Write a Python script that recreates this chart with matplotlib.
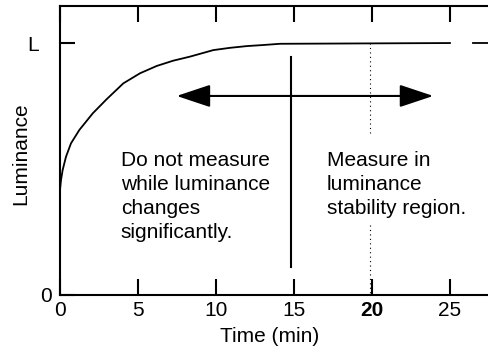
import numpy as np
from matplotlib import pyplot as plt
from matplotlib.transforms import ScaledTranslation

plt.rcParams['font.family'] = ['Liberation Sans', 'DejaVu Sans']

# luminance warm-up curve (relative to L = 1)
t = [0, 0.064, 0.17, 0.385, 0.705, 1.24, 2.1, 2.99, 4.06, 5.13, 6.2, 7.26,
     8.33, 9.83, 10.9, 12.0, 13.0, 14.1, 25]
lum = [0.417, 0.456, 0.496, 0.549, 0.602, 0.655, 0.721, 0.777, 0.840, 0.880,
       0.909, 0.930, 0.946, 0.972, 0.981, 0.988, 0.992, 0.997, 1.0]
tail = [26.5, 28]            # piece of the L line after the gap
xticks = [0, 5, 10, 15, 20, 25]
xticklabels = ['0', '5', '10', '15', '20', '25']
arrow_x = [7.48, 23.93]
arrow_y = 0.79
split_x = 14.8
split_y = [0.111, 0.944]
ref_x = 19.85
ref_segs = [[1.0, 0.635], [0.278, 0.0]]

fs = 15
fig = plt.figure(figsize=(4.88, 3.5), dpi=100)
ax = fig.add_axes([60/488, 55/350, 428/488, 289/350])

ax.plot(t, lum, color='black', lw=1.3)
ax.plot(tail, [1, 1], color='black', lw=1.3)
ax.plot([split_x, split_x], split_y, color='black', lw=1.5)
for seg in ref_segs:
    ax.plot([ref_x, ref_x], seg, color='black', lw=0.8, linestyle=(0, (1, 3)))

ax.annotate('', xy=(arrow_x[1], arrow_y), xytext=(arrow_x[0], arrow_y),
            arrowprops=dict(arrowstyle='<|-|>,head_length=2.1,head_width=0.7',
                            mutation_scale=10, color='black', lw=1.5,
                            shrinkA=0, shrinkB=0))

ax.text(3.9, 0.57, 'Do not measure\nwhile luminance\nchanges\nsignificantly.',
        fontsize=fs, va='top', ha='left', linespacing=1.32)
ax.text(17.1, 0.57, 'Measure in\nluminance\nstability region.',
        fontsize=fs, va='top', ha='left', linespacing=1.32)

ax.set_xlim(0, 27.44)
ax.set_ylim(0, 1.147)
ax.spines['right'].set_visible(False)
for s in ['left', 'top', 'bottom']:
    ax.spines[s].set_linewidth(1.5)

ax.set_xticks(xticks, xticklabels)
ax.get_xticklabels()[4].set_fontweight('bold')
ax.tick_params(axis='x', direction='in', length=11.5, width=1.5, top=True,
               labelsize=fs, pad=4)
ax.set_yticks([0, 1], ['0', 'L'])
ax.tick_params(axis='y', direction='in', length=11, width=1.5, labelsize=fs, pad=6)
lbl = ax.get_yticklabels()[1]
lbl.set_transform(lbl.get_transform() + ScaledTranslation(-0.13, 0, fig.dpi_scale_trans))

ax.set_xlabel('Time (min)', fontsize=fs)
ax.xaxis.set_label_coords(210/428, -0.112)
ax.set_ylabel('Luminance', fontsize=fs)
ax.yaxis.set_label_coords(-30/428, 0.49)

fig.savefig('out.png', dpi=100)
